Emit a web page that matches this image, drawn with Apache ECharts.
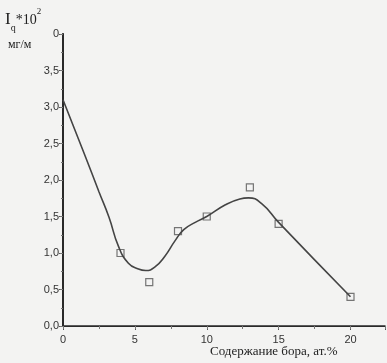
<!DOCTYPE html>
<html><head><meta charset="utf-8">
<script src="https://cdn.jsdelivr.net/npm/echarts@6/dist/echarts.min.js"></script>
<style>html,body{margin:0;padding:0;background:#f3f3f2}#c{width:387px;height:363px}</style>
</head><body><div id="c"></div>
<script>
// measured points (boron content, at.% ; I_q*10^2, mg/m)
var pointX = [4, 6, 8, 10, 13, 15, 20];
var pointY = [1.0, 0.6, 1.3, 1.5, 1.9, 1.4, 0.4];
// fitted curve
var curveX = [0, 1.5, 2.5, 3.2, 3.86, 4.55, 5.25, 5.75, 6.4, 7.1, 7.8, 8.4, 9.2, 10, 11.3, 12.3, 12.9, 13.8, 15, 20];
var curveY = [3.1, 2.35, 1.84, 1.49, 1.09, 0.86, 0.78, 0.76, 0.81, 0.96, 1.17, 1.32, 1.42, 1.5, 1.66, 1.74, 1.755, 1.68, 1.42, 0.4];
var xTicks = [0, 5, 10, 15, 20];
var xTitle = 'Содержание бора, ат.%';

function zip(a, b) { return a.map(function (v, i) { return [v, b[i]]; }); }
var chart = echarts.init(document.getElementById('c'), null, {renderer: 'canvas'});
var axisCol = '#2a2a2a';
var labelFont = {color: '#333', fontFamily: 'Liberation Sans', fontSize: 11};
chart.setOption({
  backgroundColor: '#f3f3f2',
  animation: false,
  grid: {left: 63, right: 2, top: 34, bottom: 37},
  xAxis: [{
    type: 'value', min: 0, max: 22.4, interval: 5, position: 'bottom',
    axisLine: {lineStyle: {color: axisCol, width: 1.5}},
    axisTick: {show: true, length: 4, lineStyle: {color: '#555'}},
    minorTick: {show: true, splitNumber: 2, length: 3, lineStyle: {color: '#777'}},
    splitLine: {show: false},
    axisLabel: Object.assign({margin: 8, showMaxLabel: false, formatter: function (v) { return xTicks.indexOf(v) >= 0 ? String(v) : ''; }}, labelFont)
  }, {
    type: 'value', min: 0, max: 22.4, interval: 5, position: 'top',
    axisLine: {show: true, lineStyle: {color: axisCol, width: 1.2}},
    axisTick: {show: true, inside: true, length: 3, lineStyle: {color: '#777'}},
    axisLabel: {show: false}, splitLine: {show: false}
  }],
  yAxis: [{
    type: 'value', min: 0, max: 4, interval: 0.5, position: 'left',
    axisLine: {show: true, lineStyle: {color: axisCol, width: 2}},
    axisTick: {show: true, length: 4, lineStyle: {color: '#555'}},
    minorTick: {show: true, splitNumber: 2, length: 2, lineStyle: {color: '#777'}},
    splitLine: {show: false},
    axisLabel: Object.assign({margin: 4, formatter: function (v) { return v === 4 ? '0' : v.toFixed(1).replace('.', ','); }}, labelFont)
  }, {
    type: 'value', min: 0, max: 4, interval: 0.5, position: 'right',
    axisLine: {show: true, lineStyle: {color: axisCol, width: 1.5}},
    axisTick: {show: true, inside: true, length: 3, lineStyle: {color: '#777'}},
    axisLabel: {show: false}, splitLine: {show: false}
  }],
  series: [{
    type: 'line', data: zip(curveX, curveY), smooth: 0.5, showSymbol: false,
    lineStyle: {color: '#444', width: 1.6}, silent: true
  }, {
    type: 'scatter', data: zip(pointX, pointY), symbol: 'rect', symbolSize: 7,
    itemStyle: {color: '#f3f3f2', borderColor: '#555', borderWidth: 1.2}
  }],
  graphic: [{
    type: 'text', left: 5, top: 7,
    style: {
      rich: {
        i: {fontFamily: 'Liberation Serif', fontSize: 17, fill: '#222'},
        q: {fontFamily: 'Liberation Serif', fontSize: 10, fill: '#222', verticalAlign: 'bottom', padding: [16, 0, 0, 0]},
        m: {fontFamily: 'Liberation Serif', fontSize: 14, fill: '#222'},
        s: {fontFamily: 'Liberation Serif', fontSize: 9, fill: '#222', verticalAlign: 'top', padding: [0, 0, 9, 0]}
      },
      text: '{i|I}{q|q}{m|*10}{s|2}'
    }
  }, {
    type: 'text', left: 8, top: 39,
    style: {text: 'мг/м', fontFamily: 'Liberation Serif', fontSize: 12, fill: '#222'}
  }, {
    type: 'text', left: 210, top: 345,
    style: {text: xTitle, fontFamily: 'Liberation Serif', fontSize: 13, fill: '#222', align: 'center'}
  }]
});
</script></body></html>
